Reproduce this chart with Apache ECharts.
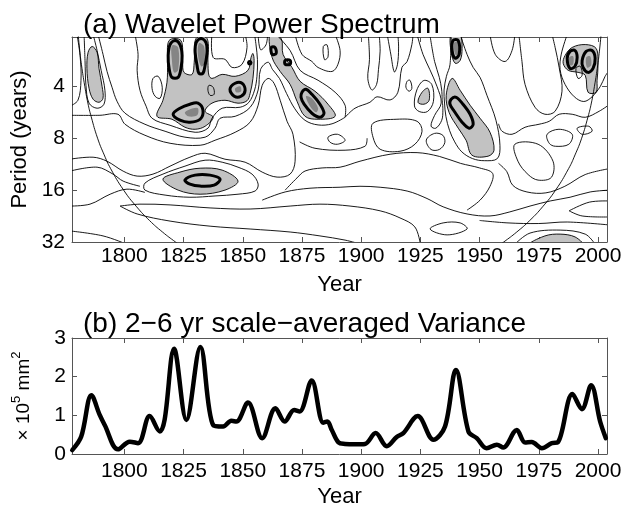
<!DOCTYPE html>
<html>
<head>
<meta charset="utf-8">
<script src="https://cdn.jsdelivr.net/npm/echarts@6/dist/echarts.min.js"></script>
<style>
body { margin: 0; background: #fff; }
#main { width: 628px; height: 508px; }
</style>
</head>
<body>
<div id="main"></div>
<script>
var FONT = 'Liberation Sans, Arial, Helvetica, sans-serif';

// tick positions
var xTicks = [1800, 1825, 1850, 1875, 1900, 1925, 1950, 1975, 2000];

// (b) scale-averaged variance (x 10^5 mm^2)
var varYears = [1778, 1781.8, 1786.1, 1789.6, 1791.7, 1797.3, 1802.3, 1805.8, 1810.7, 1815.0,
  1817.0, 1821.0, 1826.2, 1832.1, 1837.5, 1841.7, 1845.2, 1847.3, 1852.2, 1858.2,
  1863.8, 1867.7, 1871.7, 1874.0, 1879.1, 1884.0, 1885.7, 1887.6, 1890.4, 1893.2,
  1897.5, 1901.6, 1906.1, 1910.8, 1915.0, 1917.8, 1923.9, 1930.5, 1935.4, 1940.0,
  1945.3, 1948.8, 1953.0, 1957.3, 1960.0, 1965.7, 1969.2, 1972.0, 1976.3, 1980.5,
  1983.0, 1989.2, 1993.2, 1997.1, 2000.9, 2003.3];
var varValues = [0.10, 0.45, 1.52, 1.01, 0.75, 0.12, 0.32, 0.28, 0.98, 0.58,
  0.88, 2.72, 0.88, 2.77, 0.75, 0.71, 0.86, 0.84, 1.33, 0.41,
  1.18, 0.84, 1.14, 1.10, 1.90, 0.81, 0.84, 0.62, 0.30, 0.26,
  0.25, 0.26, 0.54, 0.20, 0.44, 0.54, 0.98, 0.37, 0.71, 2.17,
  0.58, 0.41, 0.15, 0.24, 0.17, 0.62, 0.30, 0.31, 0.15, 0.28,
  0.30, 1.55, 1.16, 1.78, 0.84, 0.41];

// cone of influence (period in years)
var coiPeriods = [2.0, 2.5, 3, 4, 5, 6, 8, 10, 12, 16, 20, 24, 28, 32, 34];
var coiLeftYears = [1780.5, 1781.2, 1781.9, 1783.3, 1784.6, 1786.0, 1788.7, 1791.5, 1794.2, 1799.7, 1805.2, 1810.6, 1816.1, 1821.6, 1824.3];
var coiRightYears = [2001.3, 2000.6, 1999.9, 1998.5, 1997.2, 1995.8, 1993.1, 1990.3, 1987.6, 1982.1, 1976.6, 1971.2, 1965.7, 1960.2, 1957.5];

// shaded contour regions [year, period]
var greyShapes = [
  [[1786.4,2.35],[1788.5,2.54],[1789.3,3.15],[1790.6,4.0],[1791.0,4.69],[1789.3,4.95],[1786.8,4.75],[1785.1,4.11],[1784.2,3.15],[1784.7,2.54]],
  [[1813.8,5.97],[1816.3,4.82],[1818.0,3.79],[1818.3,2.9],[1818.9,2.17],[1823.9,2.17],[1824.6,2.9],[1825.2,3.32],[1828.6,3.41],[1829.5,2.9],[1830.3,2.11],[1834.9,2.11],[1835.3,2.9],[1835.7,3.45],[1837.0,3.60],[1841.3,3.41],[1846.8,3.50],[1852.2,3.23],[1853.5,2.72],[1854.3,2.58],[1854.8,2.83],[1854.3,3.60],[1853.1,4.40],[1851.8,4.85],[1848.0,5.01],[1842.5,4.82],[1837.0,5.01],[1834.1,5.58],[1837.5,6.05],[1834.1,6.82],[1829.9,7.10],[1825.6,6.91],[1820.1,6.21]],
  [[1816.3,13.82],[1823.5,12.58],[1832.0,11.94],[1841.3,12.25],[1848.0,14.19],[1842.5,16.0],[1832.0,16.9],[1822.7,16.0]],
  [[1861.5,2.0],[1866.2,2.11],[1867.0,2.61],[1870.8,3.11],[1874.2,3.74],[1880.5,4.27],[1886.0,5.08],[1889.0,5.97],[1881.8,6.21],[1876.3,5.97],[1872.9,4.88],[1870.0,3.90],[1865.8,3.28],[1862.4,2.72]],
  [[1938.0,2.0],[1941.8,2.0],[1942.6,2.41],[1941.8,2.83],[1939.7,2.94],[1938.0,2.54]],
  [[1938.4,3.60],[1941.8,4.22],[1946.0,5.15],[1950.2,6.13],[1954.4,7.39],[1956.1,9.39],[1953.6,10.17],[1946.8,10.04],[1944.3,8.22],[1941.0,7.00],[1937.1,5.66],[1935.9,4.51]],
  [[1924.0,4.95],[1925.7,4.33],[1928.2,4.11],[1928.7,4.82],[1926.5,5.08]],
  [[1986.1,2.65],[1989.1,2.38],[1994.6,2.29],[1999.2,2.41],[2000.0,3.02],[1999.6,3.69],[1999.2,4.33],[1995.8,4.33],[1994.6,3.45],[1991.6,3.32],[1987.4,3.23],[1985.3,2.94]],
  [[1971.3,33],[1977.6,29.5],[1984.0,28.8],[1990.3,29.9],[1993.3,33]]
];
var darkShapes = [
  [[1820.1,2.32],[1822.7,2.38],[1822.7,3.23],[1821.0,3.32],[1820.1,2.83]],
  [[1831.5,2.25],[1833.7,2.35],[1833.7,2.98],[1832.4,3.06],[1831.1,2.65]],
  [[1825.6,5.66],[1829.0,5.36],[1831.1,5.36],[1830.7,5.89],[1826.9,5.97]],
  [[1846.8,4.11],[1848.9,4.0],[1849.3,4.27],[1847.2,4.33]],
  [[1876.7,4.57],[1879.2,4.69],[1881.8,5.36],[1880.9,5.66],[1878.4,5.22]],
  [[1939.3,2.23],[1941.0,2.23],[1941.4,2.54],[1940.1,2.65],[1939.3,2.48]],
  [[1987.8,2.72],[1989.5,2.68],[1989.5,2.98],[1988.2,3.02]],
  [[1995.0,2.72],[1996.7,2.68],[1997.1,3.02],[1995.4,3.11]]
];
// 95% significance contours
var sigRings = [
  [[1821.4,2.17],[1823.5,2.29],[1824.4,2.65],[1823.9,3.15],[1822.7,3.55],[1820.1,3.55],[1818.9,3.15],[1818.5,2.65],[1819.3,2.29]],
  [[1832.4,2.11],[1834.5,2.23],[1834.9,2.54],[1834.1,3.02],[1833.2,3.36],[1831.5,3.36],[1830.7,3.02],[1829.9,2.54],[1830.3,2.23]],
  [[1820.6,5.81],[1823.5,5.36],[1827.7,5.08],[1831.1,5.01],[1833.2,5.51],[1832.0,6.21],[1827.7,6.46],[1823.5,6.29]],
  [[1825.6,14.0],[1829.9,13.1],[1836.2,13.1],[1840.4,13.82],[1837.9,14.97],[1832.0,15.17],[1827.7,14.77]],
  [[1844.6,4.16],[1846.8,3.84],[1849.7,3.84],[1851.0,4.22],[1849.3,4.57],[1846.4,4.57]],
  [[1875.0,4.33],[1876.7,4.16],[1879.2,4.45],[1882.6,5.08],[1884.3,5.73],[1882.6,6.05],[1879.2,5.73],[1875.9,5.08],[1874.6,4.63]],
  [[1938.8,2.17],[1941.0,2.17],[1941.4,2.61],[1939.7,2.75],[1938.4,2.48]],
  [[1938.0,4.75],[1940.1,4.63],[1943.0,5.08],[1946.0,5.81],[1947.3,6.64],[1945.6,7.00],[1942.6,6.46],[1939.3,5.58],[1937.5,5.08]],
  [[1987.0,2.75],[1988.2,2.51],[1990.3,2.48],[1991.2,2.72],[1990.3,3.06],[1988.2,3.15]],
  [[1993.3,2.83],[1995.0,2.51],[1997.5,2.48],[1998.8,2.75],[1997.9,3.15],[1995.8,3.32],[1993.7,3.11]],
  [[1862.0,2.38],[1863.6,2.38],[1864.1,2.58],[1862.4,2.61]],
  [[1867.9,2.83],[1870.0,2.83],[1870.0,2.98],[1867.9,2.98]],
  [[1852.6,2.88],[1853.3,2.88],[1853.3,2.96],[1852.6,2.96]]
];
// thin contour lines, open ones run out of the frame
var contourLines = [
  [[1780.0,2.0],[1781.3,2.65],[1781.7,3.69],[1780.4,4.82],[1777,5.22]],
  [[1783.0,2.0],[1783.4,2.83],[1783.8,3.95],[1785.1,5.01],[1788.5,5.36],[1791.4,5.08],[1791.8,4.22],[1790.2,3.23],[1788.5,2.48],[1786.8,2.0]],
  [[1788.9,2.0],[1791.0,2.61],[1792.7,3.28],[1794.8,4.05],[1796.9,4.88],[1800.3,5.73],[1808.7,6.64],[1817.2,7.29],[1825.6,7.89],[1834.1,7.89],[1838.3,7.0],[1840.4,6.13],[1846.8,5.97],[1853.1,5.3],[1856.5,4.2],[1857.5,3.2],[1860.7,2.9],[1862.6,3.2],[1865.5,3.6],[1868.5,4.4],[1872.0,5.4],[1876.3,6.3],[1881.8,6.7],[1887.7,6.6],[1893.2,6.05]],
  [[1777,5.89],[1789.7,5.89],[1797.3,5.81],[1800.3,6.64],[1808.7,7.69],[1819.3,8.56],[1832.0,8.79],[1838.3,8.22],[1846.8,7.39],[1853.1,6.46],[1856.5,5.15],[1858.2,3.95],[1860.7,3.60],[1863.2,3.84],[1865.8,4.82],[1868.7,6.38],[1871.2,7.59],[1872.1,10.88],[1870.0,12.92],[1864.5,13.45],[1858.2,12.58],[1851.0,11.02],[1842.5,10.59],[1834.1,9.78],[1827.7,10.31],[1819.3,11.62],[1812.1,12.92],[1805.4,13.27],[1799.5,12.42],[1792.7,10.88],[1786.8,10.31],[1777,10.59]],
  [[1804.5,2.0],[1805.8,2.61],[1805.4,3.23],[1806.6,4.22],[1809.2,5.22],[1811.7,6.13],[1819.3,6.73],[1829.9,7.39],[1835.3,7.0],[1837.0,6.13],[1841.3,5.36],[1848.9,5.29],[1852.6,4.95],[1855.0,4.2],[1856.0,3.5],[1856.2,2.8],[1855.6,2.3],[1855.0,2.0]],
  [[1837.0,2.0],[1837.5,2.72],[1842.5,2.79],[1845.5,3.11],[1849.7,2.98],[1851.8,2.38],[1851.0,2.0]],
  [[1856.5,2.0],[1857.5,2.45],[1859.8,2.3],[1860.5,2.0]],
  [[1872.1,2.0],[1875.0,2.61],[1879.2,2.87],[1881.8,3.11],[1887.7,3.28],[1890.2,2.98],[1891.1,2.48],[1889.0,2.0]],
  [[1864.1,2.0],[1870.0,2.48],[1874.2,3.23],[1881.8,3.69],[1889.0,4.33],[1893.2,5.15],[1893.2,6.05]],
  [[1893.2,6.05],[1897.4,5.36],[1903.7,4.95],[1906.7,4.6],[1912.2,4.8],[1915.5,4.33],[1917.2,3.11],[1919.4,2.87],[1921.4,2.29],[1921.9,2.0]],
  [[1903.0,2.0],[1903.5,2.8],[1902.8,3.6],[1904.5,4.2],[1906.5,3.9],[1907.3,3.2],[1908.0,2.5],[1907.6,2.0]],
  [[1911.0,2.0],[1912.5,2.6],[1914.0,3.3],[1915.3,3.0],[1915.8,2.4],[1915.5,2.0]],
  [[1923.6,2.0],[1926.1,2.61],[1929.0,3.2],[1932.0,4.0],[1933.8,5.0],[1931.0,5.9],[1929.5,6.8],[1931.5,7.0],[1934.0,6.3],[1934.5,5.5],[1934.2,4.8]],
  [[1929.0,2.0],[1931.0,2.87],[1933.0,3.55],[1934.0,4.2],[1934.2,4.8]],
  [[1941.8,2.0],[1944.7,2.61],[1947.3,3.11],[1950.2,3.55],[1953.1,4.51],[1956.9,6.29],[1958.6,8.79],[1957.5,10.5],[1952.0,10.8],[1947.0,10.5],[1942.5,9.6],[1939.5,8.4],[1937.3,7.2],[1935.8,6.0],[1935.2,5.0],[1935.0,4.2],[1936.0,3.5],[1937.5,3.0],[1938.0,2.0]],
  [[1874.0,8.4],[1880.5,9.15],[1893.2,9.39],[1901.6,8.91],[1902.5,8.0]],
  [[1954.4,2.0],[1956.6,2.61],[1960.8,2.87],[1963.7,2.48],[1964.9,2.0]],
  [[1966.6,2.0],[1967.9,2.87],[1969.2,3.90],[1973.4,5.29],[1977.6,5.81],[1981.9,5.58],[1984.8,4.27],[1983.6,3.11],[1981.9,2.38],[1980.6,2.0]],
  [[1987.0,2.0],[1984.5,2.6],[1984.0,3.2],[1986.1,3.9],[1990.0,4.6],[1994.0,4.9],[1997.5,4.6],[2001.0,4.0],[2003.0,3.5],[2005,3.2]],
  [[1958.0,6.6],[1959.5,7.29],[1963.7,7.59],[1969.2,6.91],[1975.1,6.64],[1979.4,6.38],[1983.6,5.81],[1989.1,5.81],[1994.6,6.05],[2000.5,5.58],[2005,5.08]],
  [[1958.0,11.2],[1961.5,12.5],[1964.0,15.0],[1970.0,16.4],[1978.0,16.6],[1986.0,15.2],[1994.6,13.0],[2005,12.0]],
  [[1777,12.42],[1788.5,11.78],[1795.2,12.92],[1799.5,14.19],[1806.6,15.2]],
  [[1777,19.8],[1785.5,19.3],[1794.0,16.9],[1801.1,15.8],[1808.7,16.5]],
  [[1798.2,19.8],[1806.6,19.3],[1819.3,19.5],[1836.2,20.3],[1853.1,20.6],[1870.0,19.8],[1882.6,19.3],[1895.3,19.8],[1908.0,21.1],[1916.4,23.2],[1922.7,26.2],[1925.0,33]],
  [[1798.2,19.8],[1805.4,22.0],[1819.3,24.2],[1836.2,25.9],[1853.1,26.9],[1870.0,28.0],[1882.6,29.5],[1893.2,31.2],[1900,33]],
  [[1777,27.6],[1791.0,29.5],[1801.1,33]],
  [[1858.2,18.3],[1867.9,16.4],[1878.4,15.6],[1891.1,15.4],[1899.5,15.2],[1908.0,15.4],[1919.4,16.2],[1927.8,17.9],[1934.6,20.0],[1944.7,22.0],[1954.4,22.6],[1962.8,21.4],[1971.3,19.8],[1979.8,18.5],[1988.2,17.6],[1996.7,16.4],[2005,16.0]],
  [[1867.9,16.0],[1872.9,13.6],[1876.3,12.4],[1883.5,11.9],[1891.1,11.78],[1899.5,10.88],[1912.2,9.91],[1923.6,9.7],[1933.0,10.2],[1942.0,11.2],[1950.0,11.9],[1955.5,12.8],[1954.4,15.2],[1950.2,18.3],[1944.7,20.9]],
  [[1987.8,21.1],[1996.3,18.8],[2005,18.5]],
  [[1987.8,21.1],[1993.3,22.6],[2005,22.9]],
  [[1950.0,24.0],[1962.0,24.8],[1975.0,25.0],[1987.0,24.5],[2005,25.5]],
  [[1964.9,33],[1971.3,28.4],[1984.0,27.3],[1994.6,28.8],[1998.8,33]]
];
var contourLoops = [
  [[1808.7,14.57],[1816.3,12.92],[1825.6,11.62],[1834.1,10.73],[1841.3,11.02],[1848.0,11.78],[1853.9,12.92],[1856.5,14.77],[1855.2,16.2],[1848.0,16.9],[1838.3,17.3],[1827.7,17.6],[1817.2,17.1],[1808.7,16.0]],
  [[1812.1,3.60],[1814.3,3.50],[1816.0,4.05],[1815.1,4.69],[1813.0,4.57],[1811.7,4.11]],
  [[1835.7,3.95],[1837.5,4.05],[1837.9,4.45],[1836.2,4.51],[1835.3,4.22]],
  [[1884.0,2.35],[1885.6,2.3],[1886.0,2.7],[1884.5,2.8]],
  [[1919.4,3.74],[1920.6,3.69],[1921.4,4.11],[1920.2,4.27],[1918.9,4.05]],
  [[1922.5,5.2],[1923.5,4.2],[1926.5,3.7],[1929.8,3.9],[1930.5,4.9],[1928.0,5.6],[1924.5,5.6]],
  [[1905.0,6.55],[1915.1,6.21],[1923.6,6.38],[1925.7,7.29],[1922.7,8.67],[1916.4,9.52],[1908.0,9.27],[1905.0,7.89]],
  [[1927.5,8.2],[1931.0,7.5],[1934.5,7.7],[1935.3,8.5],[1933.0,9.3],[1929.5,9.3]],
  [[1886.0,7.89],[1890.0,7.59],[1893.2,8.22],[1890.0,8.67],[1886.9,8.45]],
  [[1964.9,8.67],[1974.7,8.67],[1981.0,10.88],[1980.3,13.5],[1974.7,14.0],[1970.5,13.0],[1966.2,10.88]],
  [[1978.5,7.59],[1983.5,7.10],[1989.1,7.59],[1987.7,8.67],[1982.0,8.91],[1979.4,8.56]],
  [[1991.2,7.00],[1996.1,6.82],[1997.5,7.29],[1993.3,7.59]],
  [[1990.7,3.15],[1992.5,3.06],[1993.3,3.45],[1991.6,3.60]],
  [[1929.1,26.9],[1934.6,24.8],[1941.8,24.8],[1944.7,26.9],[1936.3,29.1]]
];

function shapeSeries(shapes, closed, style, z) {
  return {
    type: 'custom',
    xAxisIndex: 0,
    yAxisIndex: 0,
    clip: true,
    silent: true,
    animation: false,
    z: z,
    data: shapes.map(function (s) { return s[0]; }),
    renderItem: function (params, api) {
      var pts = shapes[params.dataIndex].map(function (p) { return api.coord(p); });
      return {
        type: closed ? 'polygon' : 'polyline',
        shape: { points: pts, smooth: 0.35 },
        style: style
      };
    }
  };
}

function xAx(grid, pos, showLabel, name, margin) {
  return {
    type: 'value', gridIndex: grid, position: pos,
    min: 1777.9, max: 2003.8,
    axisLine: { show: true, onZero: false, lineStyle: { color: '#555', width: 1 } },
    axisTick: { show: true, inside: true, length: 5, customValues: xTicks, lineStyle: { color: '#555' } },
    axisLabel: {
      show: showLabel, customValues: xTicks, fontSize: 21, color: '#000', fontFamily: FONT, margin: margin,
      formatter: function (v) { return String(v); }
    },
    splitLine: { show: false },
    name: name, nameLocation: 'middle', nameGap: 32,
    nameTextStyle: { fontSize: 22, color: '#000', fontFamily: FONT }
  };
}

function periodAx(pos, showLabel) {
  return {
    type: 'log', logBase: 2, gridIndex: 0, position: pos,
    min: 2.07, max: 32, inverse: true,
    axisLine: { show: true, lineStyle: { color: '#555', width: 1 } },
    axisTick: { show: true, inside: true, length: 5, lineStyle: { color: '#555' } },
    axisLabel: {
      show: showLabel, showMinLabel: false, fontSize: 21, color: '#000', fontFamily: FONT, margin: 7,
      formatter: function (v) { return String(Math.round(v)); }
    },
    splitLine: { show: false },
    name: showLabel ? 'Period (years)' : '', nameLocation: 'middle', nameGap: 37,
    nameTextStyle: { fontSize: 22, color: '#000', fontFamily: FONT }
  };
}

function varAx(pos, showLabel) {
  return {
    type: 'value', gridIndex: 1, position: pos,
    min: 0, max: 3, interval: 1,
    axisLine: { show: true, onZero: false, lineStyle: { color: '#555', width: 1 } },
    axisTick: { show: true, inside: true, length: 5, lineStyle: { color: '#555' } },
    axisLabel: { show: showLabel, fontSize: 21, color: '#000', fontFamily: FONT, margin: 6 },
    splitLine: { show: false },
    name: showLabel ? '\u00d7 10{s|5} mm{s|2}' : '', nameLocation: 'middle', nameGap: 34,
    nameTextStyle: {
      fontSize: 19, color: '#000', fontFamily: FONT, lineHeight: 28,
      rich: { s: { fontSize: 13, lineHeight: 13, verticalAlign: 'top', color: '#000', fontFamily: FONT } }
    }
  };
}

var chart = echarts.init(document.getElementById('main'));
var option = {
  backgroundColor: '#fff',
  animation: false,
  title: [
    { text: '(a) Wavelet Power Spectrum', left: 78, top: 6,
      textStyle: { fontSize: 28, fontWeight: 'normal', color: '#000', fontFamily: FONT } },
    { text: '(b) 2\u22126 yr scale\u2212averaged Variance', left: 78, top: 305,
      textStyle: { fontSize: 28, fontWeight: 'normal', color: '#000', fontFamily: FONT } }
  ],
  grid: [
    { left: 72, top: 37, width: 535, height: 205, outerBoundsMode: 'none' },
    { left: 72, top: 338, width: 535, height: 116, outerBoundsMode: 'none' }
  ],
  xAxis: [
    xAx(0, 'bottom', true, 'Year', 4),
    xAx(0, 'top', false, '', 4),
    xAx(1, 'bottom', true, 'Year', 7),
    xAx(1, 'top', false, '', 7)
  ],
  yAxis: [
    periodAx('left', true),
    periodAx('right', false),
    varAx('left', true),
    varAx('right', false)
  ],
  series: [
    shapeSeries(greyShapes, true, { fill: '#c2c2c2', stroke: '#000', lineWidth: 0.9 }, 1),
    shapeSeries(darkShapes, true, { fill: '#858585', stroke: null }, 2),
    shapeSeries(contourLines, false, { fill: null, stroke: '#000', lineWidth: 0.9 }, 3),
    shapeSeries(contourLoops, true, { fill: null, stroke: '#000', lineWidth: 0.9 }, 3),
    shapeSeries(sigRings, true, { fill: null, stroke: '#000', lineWidth: 3 }, 4),
    {
      type: 'line', xAxisIndex: 0, yAxisIndex: 0, symbol: 'none', smooth: true, silent: true, z: 5,
      lineStyle: { color: '#000', width: 0.9 },
      data: coiLeftYears.map(function (y, i) { return [y, coiPeriods[i]]; })
    },
    {
      type: 'line', xAxisIndex: 0, yAxisIndex: 0, symbol: 'none', smooth: true, silent: true, z: 5,
      lineStyle: { color: '#000', width: 0.9 },
      data: coiRightYears.map(function (y, i) { return [y, coiPeriods[i]]; })
    },
    {
      type: 'line', xAxisIndex: 2, yAxisIndex: 2, symbol: 'none', smooth: 0.35, silent: true,
      lineStyle: { color: '#000', width: 4.5, join: 'round', cap: 'round' },
      data: varYears.map(function (y, i) { return [y, varValues[i]]; })
    }
  ]
};
chart.setOption(option);
</script>
</body>
</html>
